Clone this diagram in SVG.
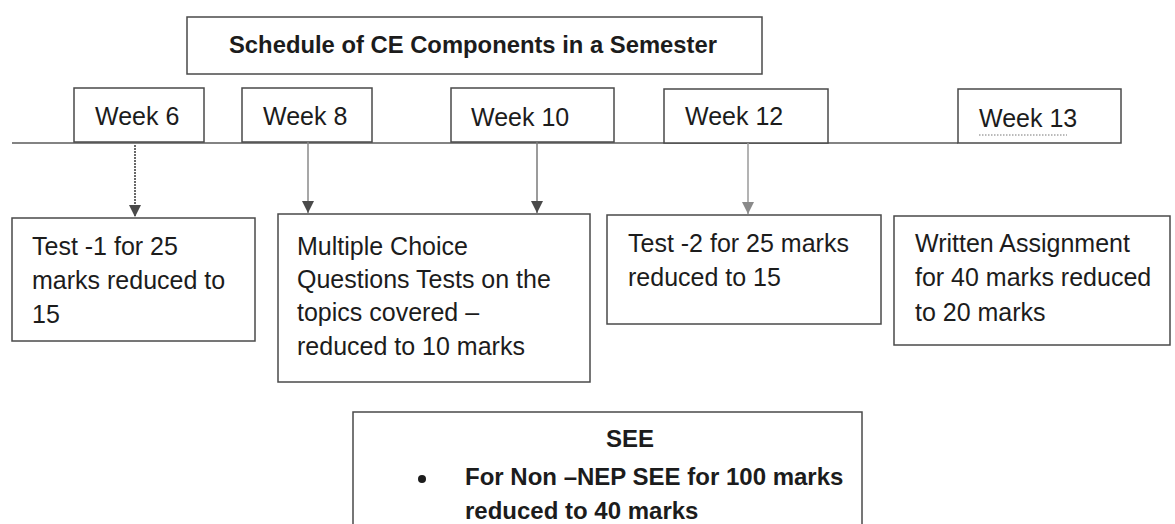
<svg xmlns="http://www.w3.org/2000/svg" width="1175" height="524" viewBox="0 0 1175 524">
  <style>
    .box { fill: #ffffff; stroke: #4a4a4a; stroke-width: 1.5; }
    .t { font-family: "Liberation Sans", Arial, sans-serif; font-size: 25px; fill: #1c1c1c; }
    .b { font-family: "Liberation Sans", Arial, sans-serif; font-size: 24px; font-weight: bold; fill: #1c1c1c; }
    .timeline { stroke: #5a5a5a; stroke-width: 1.5; fill: none; }
  </style>
  <defs>
    <marker id="headDark" markerUnits="userSpaceOnUse" markerWidth="12" markerHeight="12" refX="12" refY="6" orient="auto">
      <path d="M0,0 L12,6 L0,12 z" fill="#4a4a4a"/>
    </marker>
    <marker id="headLight" markerUnits="userSpaceOnUse" markerWidth="12" markerHeight="12" refX="12" refY="6" orient="auto">
      <path d="M0,0 L12,6 L0,12 z" fill="#8a8a8a"/>
    </marker>
  </defs>
  <rect width="1175" height="524" fill="#ffffff"/>

  <g id="timeline">
    <line class="timeline" x1="12" y1="143" x2="958" y2="143"/>
  </g>

  <g id="title">
    <rect class="box" x="187" y="17" width="575" height="57"/>
    <text class="b" x="229" y="53" font-size="25" textLength="488" lengthAdjust="spacingAndGlyphs">Schedule of CE Components in a Semester</text>
  </g>

  <g id="week6">
    <rect class="box" x="74" y="88" width="130" height="54"/>
    <text class="t" x="95" y="125">Week 6</text>
  </g>
  <g id="week8">
    <rect class="box" x="242" y="88" width="130" height="54"/>
    <text class="t" x="263" y="125">Week 8</text>
  </g>
  <g id="week10">
    <rect class="box" x="451" y="88" width="163" height="54"/>
    <text class="t" x="471" y="126">Week 10</text>
  </g>
  <g id="week12">
    <rect class="box" x="664" y="89" width="164" height="54"/>
    <text class="t" x="685" y="125">Week 12</text>
  </g>
  <g id="week13">
    <rect class="box" x="958" y="89" width="163" height="54"/>
    <text class="t" x="979" y="127">Week 13</text>
    <line x1="979" y1="135" x2="1067" y2="135" stroke="#777" stroke-width="1" stroke-dasharray="1.5 1.5"/>
  </g>

  <g id="test1">
    <rect class="box" x="12" y="218" width="243" height="123"/>
    <text class="t" x="32" y="255">Test -1 for 25</text>
    <text class="t" x="32" y="289">marks reduced to</text>
    <text class="t" x="32" y="323">15</text>
  </g>
  <g id="mcq">
    <rect class="box" x="278" y="214" width="312" height="168"/>
    <text class="t" x="297" y="255">Multiple Choice</text>
    <text class="t" x="297" y="288">Questions Tests on the</text>
    <text class="t" x="297" y="321">topics covered –</text>
    <text class="t" x="297" y="355">reduced to 10 marks</text>
  </g>
  <g id="test2">
    <rect class="box" x="607" y="215" width="274" height="109"/>
    <text class="t" x="628" y="252">Test -2 for 25 marks</text>
    <text class="t" x="628" y="286">reduced to 15</text>
  </g>
  <g id="assignment">
    <rect class="box" x="894" y="216" width="276" height="129"/>
    <text class="t" x="915" y="252">Written Assignment</text>
    <text class="t" x="915" y="286">for 40 marks reduced</text>
    <text class="t" x="915" y="321">to 20 marks</text>
  </g>
  <g id="see">
    <rect class="box" x="353" y="412" width="509" height="130"/>
    <text class="b" x="630" y="447" text-anchor="middle">SEE</text>
    <circle cx="422" cy="479" r="4" fill="#1c1c1c"/>
    <text class="b" x="465" y="485">For Non –NEP SEE for 100 marks</text>
    <text class="b" x="465" y="519">reduced to 40 marks</text>
  </g>

  <g id="connectors">
    <line x1="135" y1="145" x2="135" y2="217" stroke="#444444" stroke-width="1.6" stroke-dasharray="2 1" marker-end="url(#headDark)"/>
    <line x1="308" y1="142" x2="308" y2="213" stroke="#8a8a8a" stroke-width="1.5" marker-end="url(#headDark)"/>
    <line x1="537" y1="142" x2="537" y2="213" stroke="#7a7a7a" stroke-width="1.5" marker-end="url(#headDark)"/>
    <line x1="748" y1="143" x2="748" y2="214" stroke="#9a9a9a" stroke-width="1.5" marker-end="url(#headLight)"/>
  </g>
</svg>
